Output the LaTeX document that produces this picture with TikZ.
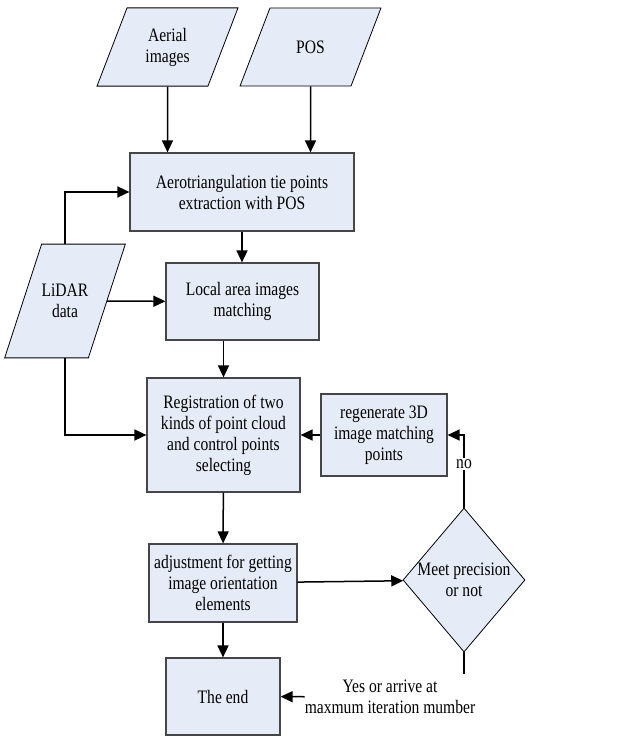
\documentclass[tikz,border=0pt]{standalone}
\usepackage{fontspec}
\setmainfont{Liberation Serif}[FakeStretch=0.82]
\usepackage{tikz}
\usetikzlibrary{arrows.meta, shapes.geometric, positioning, calc}
\usepackage{xcolor}
\definecolor{boxfill}{RGB}{230,236,247}
\definecolor{boxline}{RGB}{70,70,70}

\begin{document}
\begin{tikzpicture}[x=1pt, y=-1pt,
    font=\fontsize{19}{21}\selectfont,
    arr/.style={-{Triangle[length=12pt,width=11pt]}, line width=1.5pt},
    proc/.style={rectangle, draw=boxline, line width=1.2pt, fill=boxfill, align=center, inner sep=2pt},
    dataio/.style={trapezium, draw=black, line width=0.8pt, fill=boxfill, align=center, trapezium stretches body=true, inner xsep=0pt},
    decide/.style={diamond, draw=black, line width=0.8pt, fill=boxfill, align=center, inner sep=0pt, aspect=0.85}]
            \useasboundingbox (0,0) rectangle (616,736);
            \node[dataio, trapezium left angle=69, trapezium right angle=111, minimum width=141pt, inner ysep=20pt] (aerial) at (167.5,47) {Aerial\\images};
            \node[dataio, trapezium left angle=69, trapezium right angle=111, minimum width=141pt, inner ysep=32.7pt] (pos) at (310.5,47) {POS};
            \node[proc, minimum width=224pt, minimum height=78pt] (aero) at (242,192) {Aerotriangulation tie points\\extraction with POS};
            \node[dataio, trapezium left angle=72, trapezium right angle=108, minimum width=118pt, inner ysep=40pt] (lidar) at (65,301) {LiDAR\\data};
            \node[proc, minimum width=153pt, minimum height=77pt] (local) at (242.5,301.5) {Local area images\\matching};
            \node[proc, minimum width=153pt, minimum height=114pt] (reg) at (223.5,435) {Registration of two\\kinds of point cloud\\and control points\\selecting};
            \node[proc, minimum width=126pt, minimum height=82pt] (regen) at (384,435) {regenerate 3D\\image matching\\points};
            \node[proc, minimum width=148pt, minimum height=78pt] (adj) at (223,583) {adjustment for getting\\image orientation\\elements};
            \node[decide, minimum width=122pt, minimum height=144pt] (dec) at (464,580) {Meet precision\\or not};
            \node[proc, minimum width=114pt, minimum height=77pt] (end) at (223,696.5) {The end};
            \node[align=center, inner sep=0pt] (yes) at (390,697) {Yes or arrive at\\maxmum iteration mumber};
            \coordinate (yesend) at (464,674);
            \draw[arr] (aerial) -- (aerial |- aero.north);
            \draw[arr] (pos) -- (pos |- aero.north);
            \draw[arr] (lidar) |- (aero);
            \draw[arr] (lidar) -- (local);
            \draw[arr] (lidar) |- (reg);
            \draw[arr] (aero) -- (aero |- local.north);
            \draw[arr] (reg |- local.south) -- (reg);
            \draw[arr] (regen) -- (reg);
            \draw[arr] (reg) -- (adj);
            \draw[arr] (adj) -- (end);
            \draw[arr] (adj) -- (dec);
            \draw[arr] (dec) |- node[pos=0.3, fill=white, inner sep=1pt] {no} (regen);
            \draw[line width=1.5pt] (dec) -- (yesend);
            \draw[arr] (yes) -- (end);
        \end{tikzpicture}
\end{document}
